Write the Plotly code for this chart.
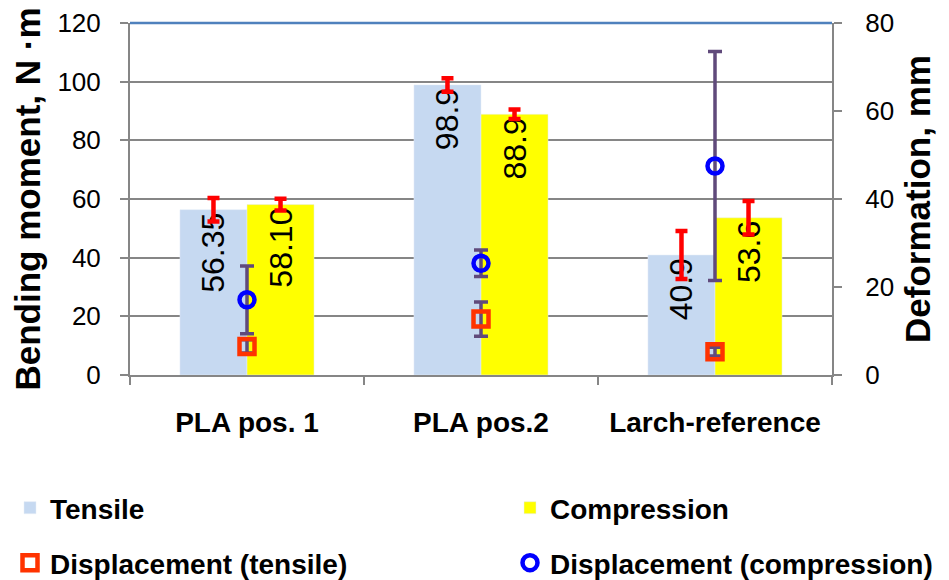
import plotly.graph_objects as go

categories = ["PLA pos. 1", "PLA pos.2", "Larch-reference"]
tensile = [56.35, 98.9, 40.9]
compression = [58.10, 88.9, 53.6]
tensile_err = [4.0, 2.3, 8.2]
compression_err = [2.0, 1.6, 5.7]
tensile_labels = ["56.35", "98.9", "40.9"]
compression_labels = ["58.10", "88.9", "53.6"]
disp_tensile = [6.5, 12.7, 5.3]
disp_tensile_err = [1.5, 3.9, 1.0]
disp_compression = [17.1, 25.4, 47.5]
disp_compression_err = [7.7, 3.0, 26.0]

FONT = "Liberation Sans"
GRAY = "#868686"

fig = go.Figure()
fig.add_trace(go.Bar(
    name="Tensile", x=categories, y=tensile, marker_color="#C6D9F1",
    error_y=dict(type="data", array=tensile_err, color="#FF0000", thickness=4.5, width=6),
    text=tensile_labels, textposition="inside", insidetextanchor="end", textangle=-90,
    insidetextfont=dict(family=FONT, size=32, color="black"),
    legend="legend", showlegend=True,
))
fig.add_trace(go.Bar(
    name="Compression", x=categories, y=compression, marker_color="#FFFF00",
    error_y=dict(type="data", array=compression_err, color="#FF0000", thickness=4.5, width=6),
    text=compression_labels, textposition="inside", insidetextanchor="end", textangle=-90,
    insidetextfont=dict(family=FONT, size=32, color="black"),
    legend="legend2", showlegend=True,
))
fig.add_trace(go.Scatter(
    name="Displacement (tensile)", x=categories, y=disp_tensile, yaxis="y2", mode="markers",
    marker=dict(symbol="square-open", size=15, color="#FF3300", line=dict(width=4.5, color="#FF3300")),
    error_y=dict(type="data", array=disp_tensile_err, color="#604A7B", thickness=3.5, width=7),
    legend="legend3", showlegend=True,
))
fig.add_trace(go.Scatter(
    name="Displacement (compression)", x=categories, y=disp_compression, yaxis="y2", mode="markers",
    marker=dict(symbol="circle-open", size=15, color="#0000FF", line=dict(width=4.5, color="#0000FF")),
    error_y=dict(type="data", array=disp_compression_err, color="#604A7B", thickness=3.5, width=7),
    legend="legend4", showlegend=True,
))


def leg(x, y):
    return dict(
        orientation="h", xref="container", yref="container", x=x, xanchor="left",
        y=y, yanchor="middle", visible=True,
        font=dict(family=FONT, size=28, color="black", weight="bold"),
        bgcolor="rgba(0,0,0,0)", itemclick=False, borderwidth=0,
    )


row1 = 1 - 508 / 580
row2 = 1 - 563 / 580
col1 = 10 / 949
col2 = 510 / 949

fig.update_layout(
    width=949, height=580,
    showlegend=True,
    margin=dict(l=130, r=117, t=23, b=205, autoexpand=False),
    plot_bgcolor="white", paper_bgcolor="white",
    barmode="group", bargap=0.427, bargroupgap=0,
    font=dict(family=FONT, color="black"),
    xaxis=dict(
        showline=True, linecolor=GRAY, linewidth=2, automargin=False,
        ticks="outside", tickson="boundaries", ticklen=8, tickcolor=GRAY, tickwidth=2,
        tickfont=dict(family=FONT, size=28, color="black", weight="bold"),
        ticklabelstandoff=21,
    ),
    yaxis=dict(
        range=[0, 120], dtick=20, showgrid=True, gridcolor=GRAY, gridwidth=1.5,
        showline=True, linecolor=GRAY, linewidth=2, zeroline=False, automargin=False,
        ticks="outside", ticklen=8, tickcolor=GRAY, tickwidth=2,
        tickfont=dict(family=FONT, size=26, color="black"), ticklabelstandoff=14,
        title=dict(text="Bending moment, N ·m", standoff=6,
                   font=dict(family=FONT, size=35, color="black", weight="bold")),
    ),
    yaxis2=dict(
        range=[0, 80], dtick=20, overlaying="y", side="right", showgrid=False,
        showline=True, linecolor=GRAY, linewidth=2, zeroline=False, automargin=False,
        ticks="outside", ticklen=8, tickcolor=GRAY, tickwidth=2,
        tickfont=dict(family=FONT, size=26, color="black"), ticklabelstandoff=18,
        title=dict(text="Deformation, mm", standoff=12,
                   font=dict(family=FONT, size=35, color="black", weight="bold")),
    ),
    legend=leg(col1, row1),
    legend2=leg(col2, row1),
    legend3=leg(col1, row2),
    legend4=leg(col2, row2),
    shapes=[dict(type="line", xref="paper", yref="paper", x0=0, x1=1, y0=1, y1=1,
                 line=dict(color="#4F81BD", width=2.5), layer="above")],
)

fig.write_html(
    "out.html",
    config={"displayModeBar": False},
    post_script="document.body.style.margin='0';document.body.style.overflow='hidden';",
)
